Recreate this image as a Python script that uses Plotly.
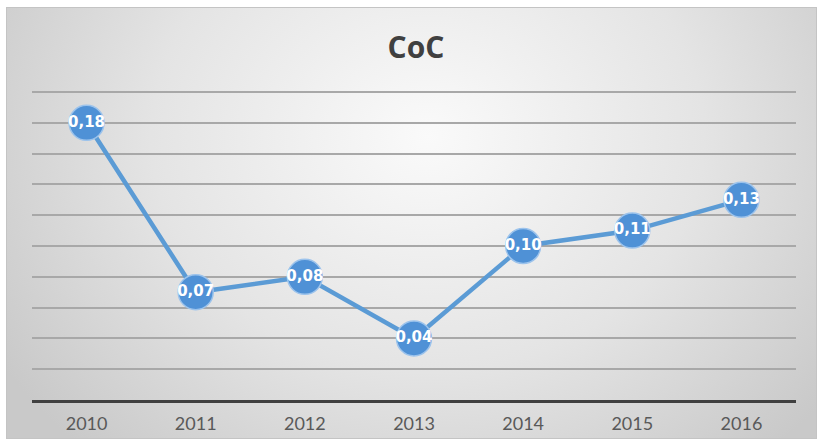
import base64
import plotly.graph_objects as go

years = ["2010", "2011", "2012", "2013", "2014", "2015", "2016"]
coc = [0.18, 0.07, 0.08, 0.04, 0.10, 0.11, 0.13]
labels = ["0,18", "0,07", "0,08", "0,04", "0,10", "0,11", "0,13"]
title_text = "CoC"

W, H = 817, 439
L, R, T, B = 32, 21, 90, 39
pw, ph = W - L - R, H - T - B
ytop = 0.2 * ph / (ph - 2)

svg = (
    '<svg xmlns="http://www.w3.org/2000/svg" width="811" height="432" viewBox="0 0 811 432" preserveAspectRatio="none">'
    '<defs><radialGradient id="g" cx="0.52" cy="0.3" r="0.62" gradientTransform="translate(0.52,0.3) scale(1,1.6) translate(-0.52,-0.3)">'
    '<stop offset="0" stop-color="#fafafa"/><stop offset="0.55" stop-color="#e4e4e4"/>'
    '<stop offset="1" stop-color="#c9c9c9"/></radialGradient></defs>'
    '<rect width="811" height="432" fill="url(#g)"/>'
    '<rect x="0.5" y="0.5" width="810" height="431" fill="none" stroke="#c4c4c4" stroke-width="1"/>'
    '</svg>'
)
src = "data:image/svg+xml;base64," + base64.b64encode(svg.encode()).decode()

fig = go.Figure()
fig.add_trace(go.Scatter(
    x=years, y=coc, text=labels,
    mode="lines+markers+text",
    line=dict(color="#5b9bd5", width=4.5),
    marker=dict(size=35, color="#4f91d6", line=dict(color="#9cc3ec", width=1.5)),
    textposition="middle center",
    textfont=dict(family="DejaVu Sans", size=15, color="white", weight="bold"),
    cliponaxis=False,
    hoverinfo="skip",
))

fig.add_layout_image(dict(
    source=src, xref="paper", yref="paper",
    x=(6 - L) / pw, y=(H - B - 7) / ph,
    sizex=811 / pw, sizey=432 / ph,
    xanchor="left", yanchor="top", sizing="stretch", layer="below",
))

fig.update_layout(
    width=W, height=H,
    margin=dict(l=L, r=R, t=T, b=B, autoexpand=False),
    paper_bgcolor="white", plot_bgcolor="rgba(0,0,0,0)",
    showlegend=False,
    title=dict(text=title_text, x=416 / W, xanchor="center", y=1 - 47 / H, yanchor="middle",
               font=dict(family="Open Sans", size=30, color="#404040", weight="bold")),
    xaxis=dict(type="category", range=[-0.5, 6.5], showgrid=False, showline=True,
               linecolor="#404040", linewidth=2.5, ticks="", ticklen=0, automargin=False,
               ticklabelstandoff=6,
               tickfont=dict(family="Lato", size=18, color="#595959")),
    yaxis=dict(range=[0, ytop], tick0=0, dtick=0.02, showticklabels=False, showgrid=True,
               automargin=False,
               gridcolor="#a8a8a8", gridwidth=1.5, zeroline=False, showline=False),
)

fig.write_html("out.html")
